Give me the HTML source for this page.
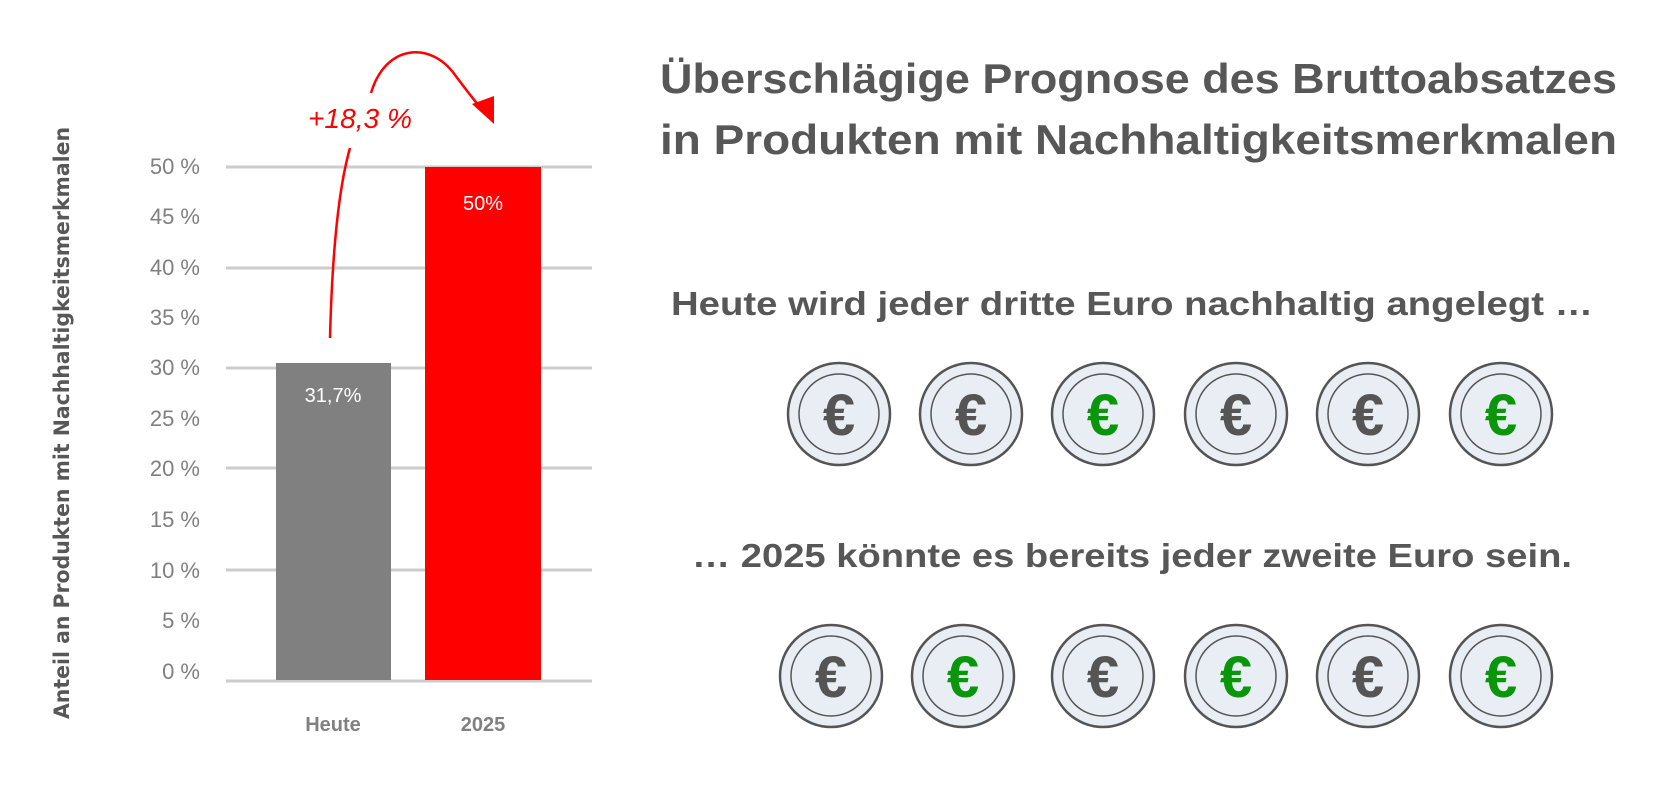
<!DOCTYPE html>
<html><head><meta charset="utf-8"><style>
html,body{margin:0;padding:0;background:#fff;}
svg{display:block;}
</style></head><body>
<svg width="1663" height="800" viewBox="0 0 1663 800" xmlns="http://www.w3.org/2000/svg">
<g stroke="#cccccc" stroke-width="3">
<line x1="226" y1="167" x2="592" y2="167"/>
<line x1="226" y1="268" x2="592" y2="268"/>
<line x1="226" y1="368" x2="592" y2="368"/>
<line x1="226" y1="468" x2="592" y2="468"/>
<line x1="226" y1="570" x2="592" y2="570"/>
<line x1="226" y1="681" x2="592" y2="681"/>
</g>
<rect x="276" y="363" width="115" height="317" fill="#808080"/>
<rect x="425" y="167" width="116" height="513" fill="#ff0000"/>
<g font-family="Liberation Sans, sans-serif" font-size="22" fill="#808080" text-anchor="end">
<text x="200" y="174">50 %</text>
<text x="200" y="224">45 %</text>
<text x="200" y="275">40 %</text>
<text x="200" y="325">35 %</text>
<text x="200" y="375">30 %</text>
<text x="200" y="426">25 %</text>
<text x="200" y="476">20 %</text>
<text x="200" y="527">15 %</text>
<text x="200" y="578">10 %</text>
<text x="200" y="628">5 %</text>
<text x="200" y="679">0 %</text>
</g>
<g font-family="Liberation Sans, sans-serif" font-size="20" fill="#fff" text-anchor="middle">
<text x="333" y="402">31,7%</text>
<text x="483" y="210">50%</text>
</g>
<g font-family="Liberation Sans, sans-serif" font-size="20" font-weight="bold" fill="#808080" text-anchor="middle">
<text x="333" y="731">Heute</text>
<text x="483" y="731">2025</text>
</g>
<text transform="translate(69,423) rotate(-90)" font-family="DejaVu Sans, sans-serif" font-weight="bold" font-size="21" fill="#575757" text-anchor="middle" textLength="592" lengthAdjust="spacingAndGlyphs">Anteil an Produkten mit Nachhaltigkeitsmerkmalen</text>
<path d="M330 338 C 332 260, 338 190, 350 148" fill="none" stroke="#ff0000" stroke-width="2.5"/>
<path d="M371 93 C 385 45, 430 40, 455 75 C 470 95, 478 105, 484 112" fill="none" stroke="#ff0000" stroke-width="2.5"/>
<polygon points="472,104 494,96 494,124" fill="#ff0000"/>
<text x="308" y="128" font-family="Liberation Sans, sans-serif" font-style="italic" font-size="28" fill="#ff0000" textLength="104" lengthAdjust="spacingAndGlyphs">+18,3 %</text>
<g font-family="Liberation Sans, sans-serif" font-weight="bold" fill="#575757">
<text x="660" y="93" font-size="42" textLength="957" lengthAdjust="spacingAndGlyphs">Überschlägige Prognose des Bruttoabsatzes</text>
<text x="660" y="154" font-size="42" textLength="957" lengthAdjust="spacingAndGlyphs">in Produkten mit Nachhaltigkeitsmerkmalen</text>
<text x="671" y="315" font-size="33" textLength="922" lengthAdjust="spacingAndGlyphs">Heute wird jeder dritte Euro nachhaltig angelegt …</text>
<text x="692" y="567" font-size="33" textLength="880" lengthAdjust="spacingAndGlyphs">… 2025 könnte es bereits jeder zweite Euro sein.</text>
</g>
<defs>
<g id="coin">
<circle r="51" fill="#e8eef4" stroke="#555" stroke-width="2.5"/>
<circle r="40" fill="none" stroke="#555" stroke-width="1.5"/>
</g>
</defs>
<g font-family="Liberation Sans, sans-serif" font-weight="bold" font-size="58" text-anchor="middle">
<use href="#coin" x="839" y="414"/><text x="839" y="435" fill="#555">€</text>
<use href="#coin" x="971" y="414"/><text x="971" y="435" fill="#555">€</text>
<use href="#coin" x="1103" y="414"/><text x="1103" y="435" fill="#0a960a">€</text>
<use href="#coin" x="1236" y="414"/><text x="1236" y="435" fill="#555">€</text>
<use href="#coin" x="1368" y="414"/><text x="1368" y="435" fill="#555">€</text>
<use href="#coin" x="1501" y="414"/><text x="1501" y="435" fill="#0a960a">€</text>
<use href="#coin" x="831" y="676"/><text x="831" y="697" fill="#555">€</text>
<use href="#coin" x="963" y="676"/><text x="963" y="697" fill="#0a960a">€</text>
<use href="#coin" x="1103" y="676"/><text x="1103" y="697" fill="#555">€</text>
<use href="#coin" x="1236" y="676"/><text x="1236" y="697" fill="#0a960a">€</text>
<use href="#coin" x="1368" y="676"/><text x="1368" y="697" fill="#555">€</text>
<use href="#coin" x="1501" y="676"/><text x="1501" y="697" fill="#0a960a">€</text>
</g>
</svg>
</body></html>
